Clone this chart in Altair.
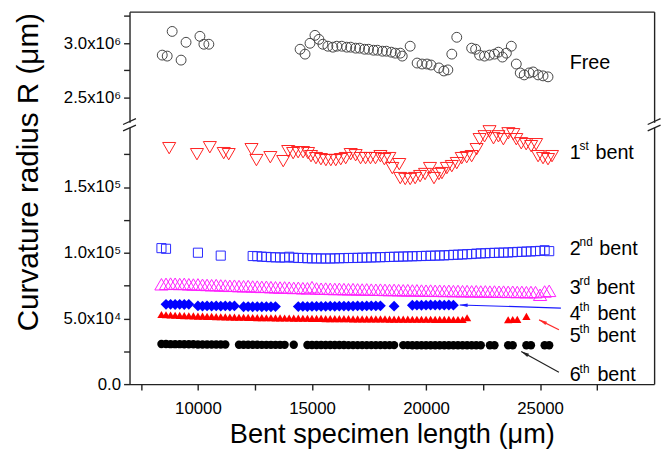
import altair as alt
import pandas as pd

FONT = "Liberation Sans"

# ---------------- data ----------------
X_GRID = [8400, 8600, 8800, 9000, 9200, 9400, 9600, 9800, 10000, 10200,
          10400, 10600, 10800, 11000, 11200, 11400, 11600, 11800, 12000, 12200,
          12400, 12600, 12800, 13000, 13200, 13400, 13600, 13800, 14000, 14200,
          14400, 14600, 14800, 15000, 15200, 15400, 15600, 15800, 16000, 16200,
          16400, 16600, 16800, 17000, 17200, 17400, 17600, 17800, 18000, 18200,
          18400, 18600, 18800, 19000, 19200, 19400, 19600, 19800, 20000, 20200,
          20400, 20600, 20800, 21000, 21200, 21400, 21600, 21800, 22000, 22200,
          22400, 22600, 22800, 23000, 23200, 23400, 23600, 23800, 24000, 24200,
          24400, 24600, 24800, 25000, 25200, 25400, 25600]

FREE_X = [8435, 8652, 8870, 9261, 9478, 10087, 10261, 10478,
          14478, 14696, 14913, 15130, 15304, 15478, 15696, 15913, 16087, 16304,
          16522, 16696, 16913, 17087, 17304, 17478, 17696, 17870, 18087, 18261,
          18478, 18652, 18870, 18957, 19304, 19609, 19826, 20043, 20217, 20565,
          20783, 20957, 21130, 21348, 22000, 22174, 22348, 22565, 22783, 23000,
          23174, 23348, 23522, 23739, 23957, 24130, 24304, 24522, 24696, 24913,
          25130, 25348]
FREE_Y = [2891000, 2882000, 3109000, 2845000, 3009000, 3064000, 2991000, 2991000,
          2945000, 2900000, 3000000, 3073000, 3036000, 2991000, 2973000, 2964000, 2973000, 2973000,
          2964000, 2964000, 2955000, 2955000, 2945000, 2945000, 2936000, 2936000, 2927000, 2927000,
          2918000, 2909000, 2909000, 2882000, 2973000, 2818000, 2809000, 2809000, 2800000, 2773000,
          2745000, 2755000, 2900000, 3055000, 2955000, 2945000, 2891000, 2882000, 2891000, 2900000,
          2918000, 2873000, 2909000, 2973000, 2809000, 2727000, 2709000, 2727000, 2736000, 2709000,
          2700000, 2691000]

BENT1_X = [8739, 9957, 10522, 11130, 11348, 12348, 12565, 13174, 13739, 13957,
           14174, 14391, 14609, 14826, 14957, 15174, 15391, 15609, 15826, 16043,
           16261, 16478, 16696, 16913, 17130, 17348, 17565, 17783, 18000, 18174,
           18391, 18522, 18826, 18870, 19087, 19304, 19522, 19739, 19957, 20174,
           20348, 20565, 20696, 20913, 21130, 21348, 21565, 21783, 22000, 22217,
           22348, 22565, 22783, 22957, 23174, 23391, 23609, 23826, 23957, 24174,
           24391, 24609, 24826, 24913, 25130, 25348, 25522]
BENT1_Y = [179600, 175000, 180300, 175800, 175000, 178800, 170500, 172700, 169700, 177300,
           175800, 176500, 176500, 175800, 173500, 172000, 171200, 170500, 170500, 170500,
           171200, 172000, 175000, 174200, 172000, 172000, 172000, 172000, 173500, 171200,
           172000, 164400, 167400, 156800, 156100, 156100, 156800, 158300, 159900, 164400,
           156800, 159900, 160600, 164400, 165900, 168200, 172000, 172700, 173500, 178800,
           186400, 188600, 192400, 187100, 188600, 186400, 190900, 190200, 186400, 183300,
           182600, 181100, 182600, 173500, 172000, 171200, 173500]

N = None
BENT2_Y = [103500, 103000, N, N, N, N, N, N, 100000, N,
           N, N, N, 97800, N, N, N, N, N, N,
           97500, 97300, 97000, 96800, 96600, 96500, 96400, 96300, 96900, 96200,
           96000, 96000, 95800, 95700, 95700, 95600, 95600, 95600, 95700, 95800,
           95900, 96000, 96000, 96100, 96200, 96300, 96400, 96500, 96600, 96700,
           96800, 96900, 97000, 97100, 97200, 97300, 97400, 97500, 97600, 97700,
           97800, 97900, 98000, 98200, 98400, 98500, 98700, 98900, 99000, 99300,
           99500, 99600, 99800, 99900, 100000, 100100, 100200, 100400, 100600, 100700,
           100900, 101000, 101200, 101400, 101900, 101200, N]
BENT3_Y = [76000, 76300, 76500, 76400, 76200, 76300, 76000, 75800, 75900, 75600,
           75500, 75300, 75400, 75100, 75000, 74800, 74900, 74600, 74500, 74600,
           74300, 74200, 74000, 74100, 73800, 73700, 73500, 73600, 73400, 73200,
           73300, 73000, 72900, 73800, 72800, 72600, 72700, 72500, 72400, 72500,
           72300, 72200, 72300, 72100, 72000, 72100, 71900, 71800, 71900, 71700,
           71600, 71700, 71500, 71400, 71500, 71300, 71400, 71200, 71100, 71200,
           71000, 71100, 70900, 71000, 70800, 70900, 70700, 70800, 70600, 70700,
           70500, 70600, 70400, 70500, 70300, 70400, 70200, 70300, 70100, 70200,
           70000, 70100, 70000, 68000, 70500, 71000, N]
BENT4_Y = [N, 60700, 60700, 60600, 60700, 60600, 60700, N, 59500, 59400,
           59500, 59400, 59500, 59400, 59500, 59400, 59500, N, 58900, 59000,
           58900, 59000, 58900, 59000, 58900, 59000, N, N, N, N,
           59000, 59100, 59000, 59100, 59200, 59100, 59200, 59300, 59200, 59300,
           59400, 59300, 59400, 59500, 59400, 59500, 59600, 59500, 59600, N,
           N, 59300, N, N, N, 60000, 60100, 60000, 60100, 60200,
           60100, 60200, 60100, 60200, 60100, N, N, N, N, N,
           N, N, N, N, N, N, N, N, N, N,
           N, N, N, N, N, N, N]
BENT5_Y = [53000, 52800, 52600, 52400, 52300, 52100, 52000, 51900, 51800, 51700,
           51600, 51500, 51400, 51300, 51200, 51100, 51000, 50900, 50900, 50800,
           50700, 50600, 50600, 50500, 50500, 50400, 50400, 50300, 50300, 50200,
           50200, 50100, 50100, 50000, 50000, 50000, 49900, 49900, 49900, 49800,
           49800, 49800, 49700, 49700, 49700, 49700, 49600, 49600, 49600, 49600,
           49500, 49500, 49500, 49500, 49500, 49400, 49400, 49400, 49400, 49400,
           49300, 49300, 49300, 49300, 49200, 49200, 49200, 50500, N, N,
           N, N, N, N, N, N, 49000, 49200, 49300, N,
           51500, N, N, N, N, N, N]
BENT6_Y = [30500, 30500, 30400, 30400, 30400, 30300, 30300, 30300, 30200, 30200,
           30200, 30200, 30100, 30100, 30100, N, N, 30000, 30000, 30000,
           30000, 30000, 29900, 29900, 29900, 29900, 29900, 29900, N, 30000,
           N, N, 29800, 29800, 29800, 29800, 29800, 29800, 29800, 29800,
           29800, 29700, 29700, 29700, 29700, 29700, 29700, 29700, 29700, 29700,
           29700, 29700, N, 29700, 29700, 29600, 29600, 29600, 29600, 29600,
           29600, 29600, 29600, 29600, 29600, 29600, 29600, 29600, 29600, 29600,
           29600, N, 29600, 29600, N, N, 29600, 29600, N, N,
           29600, 29600, N, N, 29600, 29600, N]

X_TICKS = [7500, 10000, 12500, 15000, 17500, 20000, 22500, 25000, 27500]
TOP_TICKS = [2500000, 2750000, 3000000, 3250000]
BOT_TICKS = [0, 25000, 50000, 75000, 100000, 125000, 150000, 175000]

LABEL_X = 26300
FREE_LABEL_Y = 2760000
LABEL_NUM = ["1", "2", "3", "4", "5", "6"]
LABEL_SUP = ["st", "nd", "rd", "th", "th", "th"]
LABEL_Y = [171500, 98000, 68500, 48500, 32000, 2000]
LABEL_BENT_DX = [26, 30, 27, 28, 28, 28]

ARROW_X = [21478, 24957, 24174]
ARROW_Y = [60200, 48900, 24800]
ARROW_X2 = [25913, 25826, 25826]
ARROW_Y2 = [57900, 41400, 9000]
ARROW_COLOR = ["#1a1aff", "#ff2a2a", "#222222"]
ARROW_ANGLE = [272, 296, 299]

# ---------------- scales ----------------
XS = alt.Scale(domain=[7000, 30000], nice=False, zero=False)
YS_TOP = alt.Scale(domain=[2272700, 3290900], nice=False, zero=False)
YS_BOT = alt.Scale(domain=[0, 195500], nice=False, zero=False)
W, H_TOP, H_BOT = 531, 112, 260

AXC = dict(domainColor="#222222", tickColor="#222222", domainWidth=1.4, tickWidth=1.4,
           labelColor="black", labelFont=FONT, grid=False)


def XY(ys):
    return dict(x=alt.X("x:Q", scale=XS, axis=None), y=alt.Y("y:Q", scale=ys, axis=None))


def grid_df(yvals):
    return pd.DataFrame({"x": X_GRID, "y": yvals}).dropna()


def series(df, ys, shape, color, size, filled, sw=1.0):
    return alt.Chart(df).mark_point(shape=shape, filled=filled, size=size, color=color,
                                    strokeWidth=sw, opacity=1).encode(**XY(ys))


def right_axis(ys, y0):
    return alt.Chart(pd.DataFrame({"x": [8000], "y": [y0]})).mark_point(opacity=0).encode(
        x=alt.X("x:Q", scale=XS, axis=None),
        y=alt.Y("y:Q", scale=ys, axis=alt.Axis(orient="right", ticks=False, labels=False,
                                               domain=True, title=None, **AXC)))


# ---------------- top panel ----------------
top_axes = alt.Chart(pd.DataFrame({"x": [8000], "y": [2600000]})).mark_point(opacity=0).encode(
    x=alt.X("x:Q", scale=XS, axis=alt.Axis(orient="top", ticks=False, labels=False,
                                           domain=True, title=None, **AXC)),
    y=alt.Y("y:Q", scale=YS_TOP, axis=alt.Axis(
        orient="left", values=TOP_TICKS, tickSize=6, labelPadding=3,
        labelFontSize={"condition": {"test": "datum.value == 2500000 || datum.value == 3000000",
                                     "value": 17}, "value": 0},
        labelExpr="datum.value == 2500000 ? '2.5x10\u2076' : (datum.value == 3000000 ? '3.0x10\u2076' : '')",
        title=None, **AXC)))

free = series(pd.DataFrame({"x": FREE_X, "y": FREE_Y}), YS_TOP, "circle", "#444444", 100, False, 1.0)
free_label = alt.Chart(pd.DataFrame({"x": [LABEL_X], "y": [FREE_LABEL_Y], "t": ["Free"]})).mark_text(
    align="left", baseline="alphabetic", font=FONT, fontSize=20, color="black").encode(
    text="t:N", **XY(YS_TOP))

top = alt.layer(top_axes, right_axis(YS_TOP, 2600000), free, free_label).resolve_axis(
    x="independent", y="independent").properties(width=W, height=H_TOP)

# ---------------- bottom panel ----------------
bot_axes = alt.Chart(pd.DataFrame({"x": [8000], "y": [1000]})).mark_point(opacity=0).encode(
    x=alt.X("x:Q", scale=XS, axis=alt.Axis(
        orient="bottom", values=X_TICKS, format="d", tickSize=6, labelFontSize=17, labelPadding=11,
        labelFlush=False, labelExpr="datum.value % 5000 == 0 ? datum.label : ''",
        title="Bent specimen length (\u03bcm)", titleFont=FONT, titleFontSize=27.5,
        titleFontWeight="normal", titleColor="black", titlePadding=4, **AXC)),
    y=alt.Y("y:Q", scale=YS_BOT, axis=alt.Axis(
        orient="left", values=BOT_TICKS, tickSize=6, labelFontSize=17, labelPadding=3,
        labelExpr="datum.value == 0 ? '0.0' : (datum.value == 50000 ? '5.0x10\u2074' : "
                  "(datum.value == 100000 ? '1.0x10\u2075' : (datum.value == 150000 ? '1.5x10\u2075' : '')))",
        title="Curvature radius R (\u03bcm)", titleFont=FONT, titleFontSize=30,
        titleFontWeight="normal", titleColor="black", titleAngle=270, titleX=-102, titleY=45,
        titleAlign="center", titleBaseline="middle", **AXC)))

b1 = series(pd.DataFrame({"x": BENT1_X, "y": BENT1_Y}), YS_BOT, "triangle-down", "#ff2020", 175, False, 1.0)
b2 = series(grid_df(BENT2_Y), YS_BOT, "square", "#2a2aff", 85, False, 1.0)
b3 = series(grid_df(BENT3_Y), YS_BOT, "triangle-up", "#ff20ff", 180, False, 1.0)
b4 = series(grid_df(BENT4_Y), YS_BOT, "diamond", "#0000ff", 120, True)
b5 = series(grid_df(BENT5_Y), YS_BOT, "triangle-up", "#ff0000", 70, True)
b6 = series(grid_df(BENT6_Y), YS_BOT, "circle", "#000000", 72, True)

label_layers = []
for num, sup, yv, bdx in zip(LABEL_NUM, LABEL_SUP, LABEL_Y, LABEL_BENT_DX):
    d = pd.DataFrame({"x": [LABEL_X], "y": [yv], "n": [num], "s": [sup], "b": ["bent"]})
    base = alt.Chart(d).encode(**XY(YS_BOT))
    label_layers += [
        base.mark_text(align="left", baseline="alphabetic", font=FONT, fontSize=20, color="black").encode(text="n:N"),
        base.mark_text(align="left", baseline="alphabetic", font=FONT, fontSize=12, color="black",
                       dx=10, dy=-9).encode(text="s:N"),
        base.mark_text(align="left", baseline="alphabetic", font=FONT, fontSize=20, color="black",
                       dx=bdx).encode(text="b:N"),
    ]

arrows_df = pd.DataFrame({"x": ARROW_X, "y": ARROW_Y, "x2": ARROW_X2, "y2": ARROW_Y2,
                          "c": ARROW_COLOR, "a": ARROW_ANGLE})
arrow_lines = alt.Chart(arrows_df).mark_rule(strokeWidth=1.2).encode(
    x=alt.X("x:Q", scale=XS, axis=None), y=alt.Y("y:Q", scale=YS_BOT, axis=None),
    x2="x2:Q", y2="y2:Q", color=alt.Color("c:N", scale=None))
arrow_heads = alt.Chart(arrows_df).mark_point(
    shape="M0,0L-0.45,2L0.45,2Z", filled=True, size=64, opacity=1).encode(
    x=alt.X("x:Q", scale=XS, axis=None), y=alt.Y("y:Q", scale=YS_BOT, axis=None),
    color=alt.Color("c:N", scale=None), angle=alt.Angle("a:Q", scale=None))

breaks = alt.Chart(pd.DataFrame({"x": [7000, 30000], "y": [195500, 195500]})).mark_point(
    shape="M-1,-0.43L1,-1.33M-1,0.57L1,-0.33", filled=False, size=169, color="#222222",
    strokeWidth=1.3, opacity=1).encode(**XY(YS_BOT))

bottom = alt.layer(bot_axes, right_axis(YS_BOT, 1000), b1, b2, b3, b5, b4, b6,
                   *label_layers, arrow_lines, arrow_heads, breaks).resolve_axis(
    x="independent", y="independent").properties(width=W, height=H_BOT)

chart = alt.vconcat(top, bottom, spacing=5, bounds="flush").properties(
    padding={"left": 5, "top": 0, "right": 0, "bottom": 0},
    background="white",
).configure_view(stroke="transparent")

chart.save("out.html", embed_options={"renderer": "svg", "actions": False})
